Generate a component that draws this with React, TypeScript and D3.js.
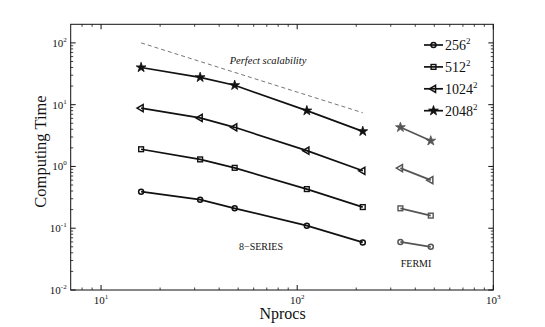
import * as d3 from 'd3'

// problem sizes (N^2)
const sizes = ['256', '512', '1024', '2048']
const markers = ['circle', 'square', 'triangle', 'star']

// 8-series CPU runs
const cpuProcs = [16, 32, 48, 112, 216]
const cpu256 = [0.39, 0.29, 0.21, 0.11, 0.059]
const cpu512 = [1.9, 1.3, 0.95, 0.43, 0.22]
const cpu1024 = [8.8, 6.1, 4.3, 1.8, 0.85]
const cpu2048 = [40, 27.7, 20.6, 8.0, 3.7]

// FERMI runs
const fermiProcs = [336, 480]
const fermi256 = [0.06, 0.05]
const fermi512 = [0.21, 0.16]
const fermi1024 = [0.94, 0.6]
const fermi2048 = [4.3, 2.6]

// perfect scalability reference
const perfectProcs = [16, 216]
const perfectTime = [100, 7.4]

const xDecades = [10, 100, 1000]
const yDecades = [0.01, 0.1, 1, 10, 100]

const W = 545
const H = 327
const margin = { left: 70.7, right: 51.7, top: 24.3, bottom: 37 }
const serif = 'Liberation Serif, Times New Roman, DejaVu Serif, serif'

const x = d3.scaleLog().domain([7, 1000]).range([margin.left, W - margin.right])
const y = d3.scaleLog().domain([0.01, 200]).range([H - margin.bottom, margin.top])

const cpuSeries = [cpu256, cpu512, cpu1024, cpu2048]
const fermiSeries = [fermi256, fermi512, fermi1024, fermi2048]

const line = d3
  .line<[number, number]>()
  .x(d => x(d[0]))
  .y(d => y(d[1]))

const starPath = d3.symbol(d3.symbolStar, 30)()
const triPath = d3.symbol(d3.symbolTriangle, 22)()

const Marker = ({ kind, cx, cy, color }: any) => {
  if (kind === 'circle')
    return <circle cx={cx} cy={cy} r={2.5} fill="none" stroke={color} strokeWidth={1.5} />
  if (kind === 'square')
    return <rect x={cx - 2.4} y={cy - 2.4} width={4.8} height={4.8} fill="none" stroke={color} strokeWidth={1.4} />
  if (kind === 'triangle')
    return (
      <path
        d={triPath}
        transform={`translate(${cx},${cy}) rotate(-90)`}
        fill="none"
        stroke={color}
        strokeWidth={1.5}
      />
    )
  return <path d={starPath} transform={`translate(${cx},${cy})`} fill={color} stroke={color} strokeWidth={0.8} />
}

const minorTicks = (lo: number, hi: number) => {
  const out: number[] = []
  for (let dec = 0.01; dec < hi; dec *= 10) {
    for (let k = 2; k <= 9; k++) {
      const v = +(dec * k).toPrecision(3)
      if (v > lo && v < hi) out.push(v)
    }
  }
  return out
}

const Pow = ({ exp, x: tx, y: ty, anchor }: any) => (
  <text x={tx} y={ty} fontSize={11} textAnchor={anchor} fill="#111">
    10
    <tspan fontSize={7} dy={-5}>
      {exp}
    </tspan>
  </text>
)

const Series = ({ procs, values, kind, color }: any) => {
  const pts: [number, number][] = procs.map((p: number, i: number) => [p, values[i]])
  return (
    <g>
      <path d={line(pts) || ''} fill="none" stroke={color} strokeWidth={1.7} />
      {pts.map((d, i) => (
        <Marker key={i} kind={kind} cx={x(d[0])} cy={y(d[1])} color={color} />
      ))}
    </g>
  )
}

export default function App() {
  const [x0, x1] = x.range()
  const [y0, y1] = y.range()
  const xMinor = minorTicks(7, 1000)
  const yMinor = minorTicks(0.01, 200)
  const perfect: [number, number][] = perfectProcs.map((p, i) => [p, perfectTime[i]])

  return (
    <svg
      width={W}
      height={H}
      style={{ position: 'absolute', left: 0, top: 0, background: 'white', fontFamily: serif }}
    >
      {/* frame */}
      <rect x={x0} y={y1} width={x1 - x0} height={y0 - y1} fill="none" stroke="#111" strokeWidth={1} />

      {/* x ticks, bottom and top, inward */}
      {xDecades.map(v => (
        <g key={'xd' + v}>
          <line x1={x(v)} x2={x(v)} y1={y0} y2={y0 - 5} stroke="#111" />
          <line x1={x(v)} x2={x(v)} y1={y1} y2={y1 + 5} stroke="#111" />
          <Pow exp={Math.round(Math.log10(v))} x={x(v)} y={y0 + 14} anchor="middle" />
        </g>
      ))}
      {xMinor.map(v => (
        <g key={'xm' + v}>
          <line x1={x(v)} x2={x(v)} y1={y0} y2={y0 - 2.5} stroke="#111" strokeWidth={0.8} />
          <line x1={x(v)} x2={x(v)} y1={y1} y2={y1 + 2.5} stroke="#111" strokeWidth={0.8} />
        </g>
      ))}

      {/* y ticks, left and right, inward */}
      {yDecades.map(v => (
        <g key={'yd' + v}>
          <line x1={x0} x2={x0 + 5} y1={y(v)} y2={y(v)} stroke="#111" />
          <line x1={x1} x2={x1 - 5} y1={y(v)} y2={y(v)} stroke="#111" />
          <Pow exp={Math.round(Math.log10(v))} x={x0 - 4} y={y(v) + 4} anchor="end" />
        </g>
      ))}
      {yMinor.map(v => (
        <g key={'ym' + v}>
          <line x1={x0} x2={x0 + 2.5} y1={y(v)} y2={y(v)} stroke="#111" strokeWidth={0.8} />
          <line x1={x1} x2={x1 - 2.5} y1={y(v)} y2={y(v)} stroke="#111" strokeWidth={0.8} />
        </g>
      ))}

      {/* perfect scalability */}
      <path d={line(perfect) || ''} fill="none" stroke="#666" strokeWidth={0.9} strokeDasharray="4,3" />
      <text x={268} y={64} fontStyle="italic" fontSize={10.5} textAnchor="middle" fill="#111">
        Perfect scalability
      </text>

      {cpuSeries.map((vals, i) => (
        <Series key={'c' + i} procs={cpuProcs} values={vals} kind={markers[i]} color="#111" />
      ))}
      {fermiSeries.map((vals, i) => (
        <Series key={'f' + i} procs={fermiProcs} values={vals} kind={markers[i]} color="#555" />
      ))}

      <text x={261} y={250} fontSize={10} textAnchor="middle" fill="#111">
        8−SERIES
      </text>
      <text x={416} y={267} fontSize={10} textAnchor="middle" fill="#111">
        FERMI
      </text>

      {/* legend */}
      {sizes.map((s, i) => {
        const ly = 45 + i * 21.9
        return (
          <g key={'l' + s}>
            <line x1={424} x2={443} y1={ly} y2={ly} stroke="#111" strokeWidth={1.7} />
            <Marker kind={markers[i]} cx={433.5} cy={ly} color="#111" />
            <text x={445} y={ly + 5} fontSize={14} fill="#111">
              {s}
              <tspan fontSize={9} dy={-6}>
                2
              </tspan>
            </text>
          </g>
        )
      })}

      {/* axis labels */}
      <text x={282.5} y={319} fontSize={16} textAnchor="middle" fill="#111">
        Nprocs
      </text>
      <text transform={`translate(46,151.5) rotate(-90)`} fontSize={16.5} textAnchor="middle" fill="#111">
        Computing Time
      </text>
    </svg>
  )
}
